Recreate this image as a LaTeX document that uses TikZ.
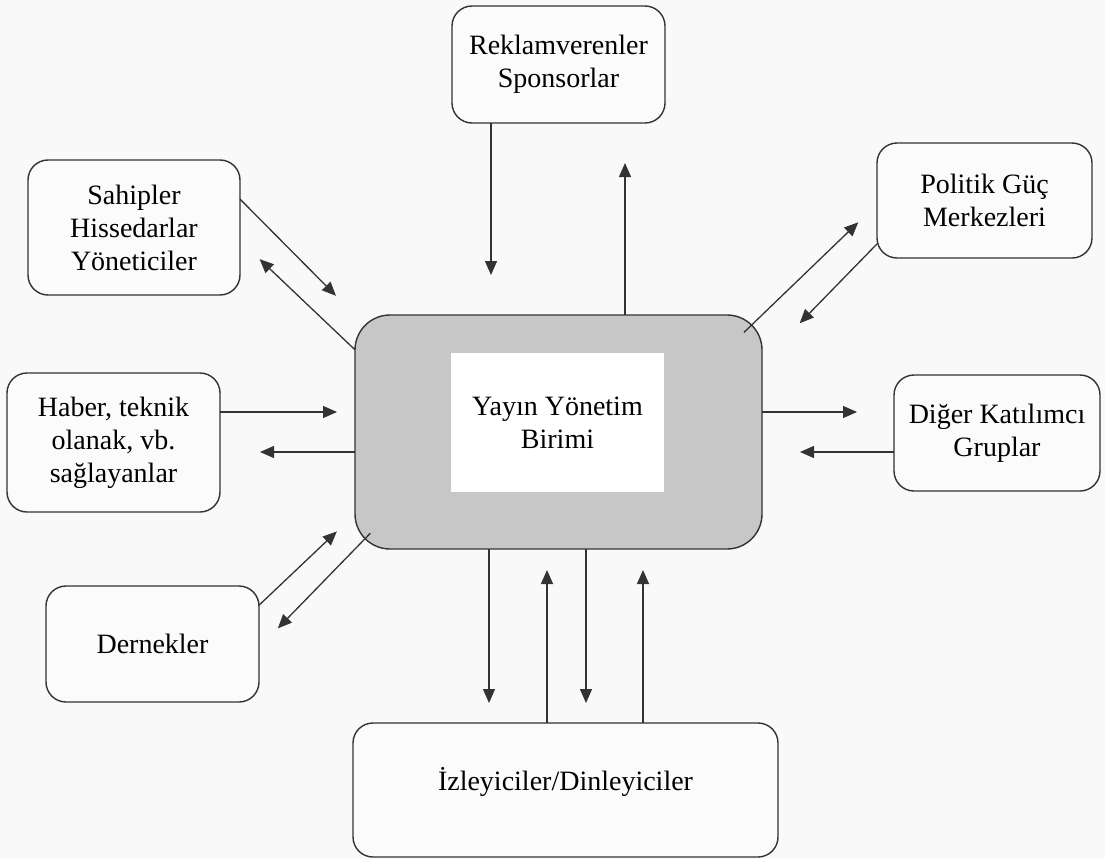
\documentclass[tikz,border=0pt]{standalone}
\usepackage{fontspec}
\setmainfont{Liberation Serif}
\usetikzlibrary{arrows.meta}

\begin{document}
\begin{tikzpicture}[x=1pt,y=-1pt,
    kutu/.style={draw=black!80,line width=1.4pt,rounded corners=20pt,fill=white!97!gray,
      align=center,outer sep=0pt,inner sep=0pt,font=\fontsize{28}{33}\selectfont},
    ok/.style={draw=black!80,line width=1.3pt,-{Triangle[length=14pt,width=12pt]}}]
            \fill[white!95!gray] (0,0) rectangle (1105,859);
            \useasboundingbox (0,0) rectangle (1105,859);

            \node[kutu,fill=black!22,rounded corners=35pt,minimum width=407pt,minimum height=234pt] (ana) at (558.5,432) {};
            \node[fill=white,minimum width=213pt,minimum height=139pt,align=center,font=\fontsize{28}{33}\selectfont] (yayin) at (557.5,422.5) {Yayın Yönetim\\Birimi};

            \node[kutu,minimum width=213pt,minimum height=117pt] (reklam) at (558.5,64.5) {Reklamverenler\\Sponsorlar};
            \node[kutu,minimum width=212pt,minimum height=135pt] (sahip) at (134,227.5) {Sahipler\\Hissedarlar\\Yöneticiler};
            \node[kutu,minimum width=215pt,minimum height=115pt] (politik) at (984.5,200.5) {Politik Güç\\Merkezleri};
            \node[kutu,minimum width=213pt,minimum height=139pt] (haber) at (113.5,442.5) {Haber, teknik\\olanak, vb.\\sağlayanlar};
            \node[kutu,minimum width=206pt,minimum height=116pt] (diger) at (997,433) {Diğer Katılımcı\\Gruplar};
            \node[kutu,minimum width=213pt,minimum height=116pt] (dernek) at (152.5,644) {Dernekler};
            \node[kutu,minimum width=425pt,minimum height=134pt] (izleyici) at (565.5,790) {\raisebox{8pt}[\height][\depth]{İzleyiciler/Dinleyiciler}};

            \draw[ok,shorten >=40pt] ([xshift=-67.5pt]reklam.south) -- ([xshift=-67.5pt]ana.north);
            \draw[ok,shorten >=40pt] ([xshift=66.5pt]ana.north) -- ([xshift=66.5pt]reklam.south);

            \draw[ok,shorten >=27pt] (sahip.15) -- (ana.north west);
            \draw[ok,shorten >=27pt] (ana.158) -- (sahip.-7);

            \draw[ok,shorten >=18pt] ([yshift=30.5pt]haber.east) -- ([yshift=20pt]ana.west);
            \draw[ok,shorten >=40pt] ([yshift=-20pt]ana.west) -- ([yshift=-9.5pt]haber.east);

            \draw[ok,shorten >=25pt] (dernek.20) -- (ana.202);
            \draw[ok,shorten <=-22pt,shorten >=27pt] (ana.south west) -- (dernek.-2);

            \draw[ok,shorten <=-25pt,shorten >=26pt] (ana.north east) -- (politik.182);
            \draw[ok,shorten >=54pt] (politik.202) -- (ana.19);

            \draw[ok,shorten >=37pt] ([yshift=20pt]ana.east) -- ([yshift=21pt]diger.west);
            \draw[ok,shorten >=38pt] ([yshift=-19pt]diger.west) -- ([yshift=-20pt]ana.east);

            \draw[ok,shorten >=20pt] ([xshift=-69.5pt]ana.south) -- ([xshift=-76.5pt]izleyici.north);
            \draw[ok,shorten >=21pt] ([xshift=-18.5pt]izleyici.north) -- ([xshift=-11.5pt]ana.south);
            \draw[ok,shorten >=20pt] ([xshift=27.5pt]ana.south) -- ([xshift=20.5pt]izleyici.north);
            \draw[ok,shorten >=21pt] ([xshift=77.5pt]izleyici.north) -- ([xshift=84.5pt]ana.south);
        \end{tikzpicture}
\end{document}
